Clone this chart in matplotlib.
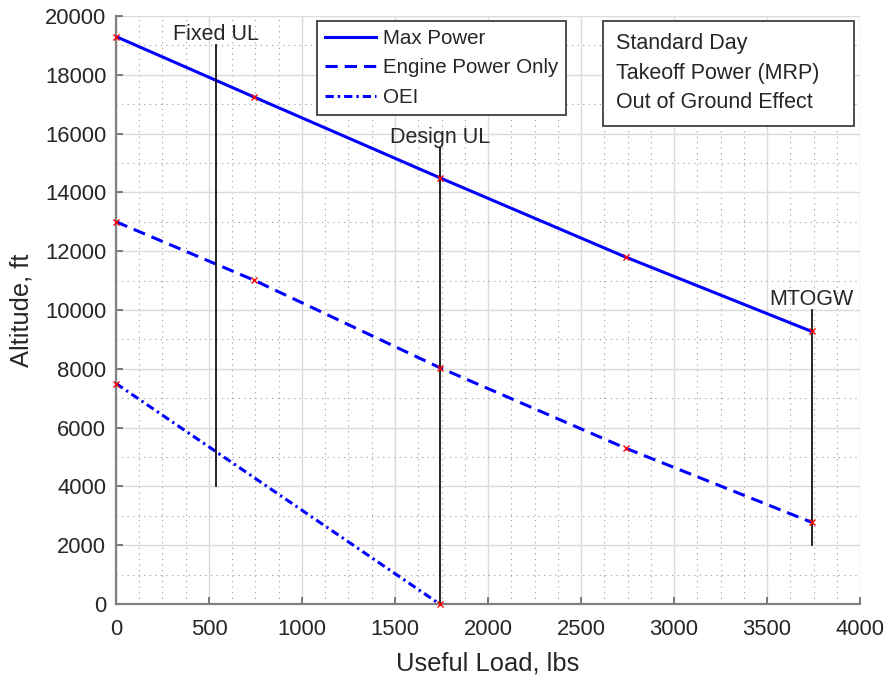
import matplotlib
matplotlib.use("Agg")
import matplotlib.pyplot as plt
from matplotlib.patches import Rectangle
from matplotlib.ticker import MultipleLocator

plt.rcParams['font.family'] = ['Liberation Sans', 'DejaVu Sans']

# ---- data ----
load_pts = [0, 740, 1740, 2740, 3740]
max_power = [19300, 17250, 14500, 11800, 9270]
engine_only = [13000, 11020, 8040, 5300, 2780]
oei_load = [0, 1740]
oei_alt = [7500, 0]

series_names = ["Max Power", "Engine Power Only", "OEI"]

ul_names = ["Fixed UL", "Design UL", "MTOGW"]
ul_x = [540, 1740, 3740]
ul_bottom = [4000, 0, 2000]
ul_top = [19000, 15500, 10000]

note_lines = ["Standard Day", "Takeoff Power (MRP)", "Out of Ground Effect"]

x_ticks = [0, 500, 1000, 1500, 2000, 2500, 3000, 3500, 4000]
y_ticks = [0, 2000, 4000, 6000, 8000, 10000, 12000, 14000, 16000, 18000, 20000]

# ---- figure ----
fig = plt.figure(figsize=(8.86, 6.77), dpi=100)
ax = fig.add_axes([0.1309, 0.1078, 0.8398, 0.8686])

axcol = (0.15, 0.15, 0.15)
blue = (0, 0, 1)
red = (1, 0, 0)

ax.set_xlim(0, 4000)
ax.set_ylim(0, 20000)
ax.set_xticks(x_ticks)
ax.set_yticks(y_ticks)
ax.set_xticklabels([str(v) for v in x_ticks])
ax.set_yticklabels([str(v) for v in y_ticks])
ax.xaxis.set_minor_locator(MultipleLocator(125))
ax.yaxis.set_minor_locator(MultipleLocator(1000))

ax.grid(True, which='major', color=(0.86, 0.86, 0.86), lw=1.0, ls='-')
ax.grid(True, which='minor', color=(0.6, 0.6, 0.6), lw=0.8, ls=(0, (1, 4)))
ax.set_axisbelow(True)

for s in ['top', 'right']:
    ax.spines[s].set_visible(False)
for s in ['left', 'bottom']:
    ax.spines[s].set_color((0.5, 0.5, 0.5))
    ax.spines[s].set_linewidth(1.6)

ax.tick_params(which='major', direction='in', length=5, width=1.2, color=(0.4, 0.4, 0.4),
               labelsize=15.8, labelcolor=axcol)
ax.tick_params(which='minor', length=0)
ax.tick_params(axis='x', pad=11)
ax.tick_params(axis='y', pad=7)

lw = 2.2
l1, = ax.plot(load_pts, max_power, color=blue, lw=lw, ls='-', label=series_names[0])
l2, = ax.plot(load_pts, engine_only, color=blue, lw=lw, ls=(0, (4, 2.3)), label=series_names[1])
l3, = ax.plot(oei_load, oei_alt, color=blue, lw=lw, ls=(0, (2.7, 1.3, 0.8, 1.3)), label=series_names[2])

for xs, ys in [(load_pts, max_power), (load_pts, engine_only), (oei_load, oei_alt)]:
    ax.plot(xs, ys, ls='none', marker='x', color=red, ms=5, mew=1.0, clip_on=False, zorder=5)

for name, x, y0, y1 in zip(ul_names, ul_x, ul_bottom, ul_top):
    ax.plot([x, x], [y0, y1], color='black', lw=1.2, zorder=4)
    ax.text(x, y1, name, ha='center', va='bottom', fontsize=15.5, color=axcol)

leg = ax.legend(handles=[l1, l2, l3], loc='upper left', bbox_to_anchor=(0.270, 0.9915),
                borderaxespad=0, fancybox=False, framealpha=1, edgecolor=(0.3, 0.3, 0.3),
                fontsize=14.8, handlelength=2.5, handletextpad=0.3, labelspacing=0.5,
                borderpad=0.4)
leg.get_frame().set_linewidth(1.4)
for t in leg.get_texts():
    t.set_color(axcol)

rect = Rectangle((0.654, 0.813), 0.338, 0.179, transform=ax.transAxes, facecolor='white',
                 edgecolor=(0.3, 0.3, 0.3), lw=1.4, zorder=6)
ax.add_patch(rect)
note_y = [0.9536, 0.9026, 0.8526]
for txt, yy in zip(note_lines, note_y):
    ax.text(0.672, yy, txt, transform=ax.transAxes, ha='left', va='center',
            fontsize=15.5, color=axcol, zorder=7)

ax.set_xlabel("Useful Load, lbs", fontsize=18.4, color=axcol, labelpad=8)
ax.set_ylabel("Altitude, ft", fontsize=18.4, color=axcol, labelpad=8)

fig.savefig("out.png", dpi=100)
